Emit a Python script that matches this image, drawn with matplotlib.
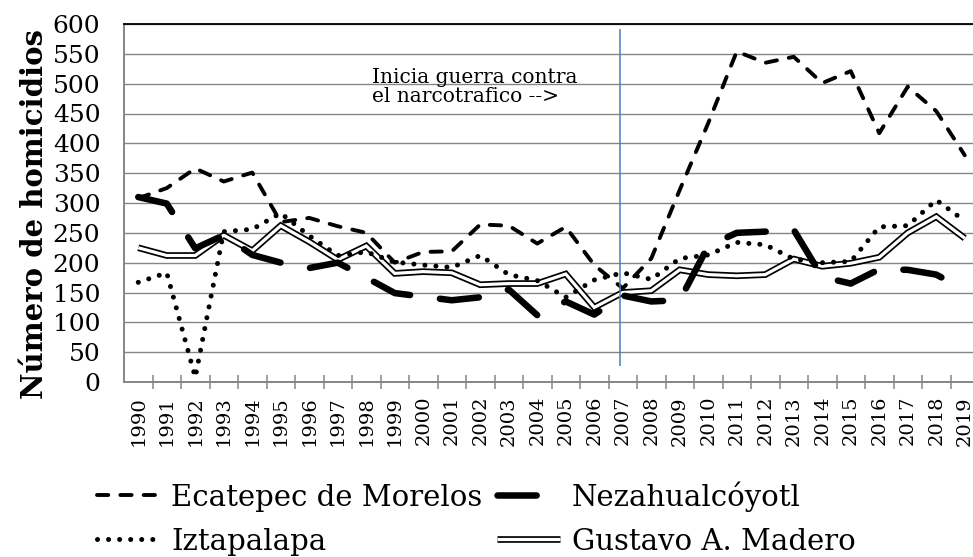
import matplotlib
matplotlib.use('Agg')
import matplotlib.pyplot as plt
import matplotlib.patheffects as pe
import numpy as np

# ---------------- data ----------------
years = [str(y) for y in range(1990, 2020)]
ecatepec = [308, 325, 358, 336, 351, 268, 275, 261, 250, 200, 218, 219, 264, 262, 232,
            260, 196, 157, 207, 322, 434, 554, 535, 545, 501, 521, 417, 495, 454, 380]
neza = [310, 299, 224, 246, 213, 200, 191, 200, 175, 149, 143, 137, 142, 155, 112,
        135, 113, 145, 135, 137, 228, 250, 252, 255, 176, 165, 189, 188, 180, 154]
iztapalapa = [167, 183, 8, 252, 256, 283, 245, 212, 218, 201, 196, 192, 212, 180, 170,
              142, 171, 183, 172, 207, 213, 234, 230, 206, 200, 202, 260, 262, 305, 270]
gam = [225, 212, 212, 246, 220, 262, 235, 205, 228, 182, 185, 183, 163, 165, 165,
       181, 125, 150, 153, 188, 180, 178, 180, 206, 194, 199, 209, 250, 277, 241]
series_names = ["Ecatepec de Morelos", "Nezahualcóyotl", "Iztapalapa", "Gustavo A. Madero"]
yticks = list(range(0, 601, 50))
event_pos = 16.9          # position of the vertical marker (around 2007)
event_span = (27, 592)
event_text = "Inicia guerra contra\nel narcotrafico -->"
ylabel = "Número de homicidios"

# ---------------- figure ----------------
SERIF = ['DejaVu Serif']
plt.rcParams['font.family'] = SERIF
W, H = 973, 557
fig = plt.figure(figsize=(W / 100, H / 100), dpi=100)
ax = fig.add_axes([124 / W, 175 / H, 855 / W, 358 / H])

x = np.arange(len(years))
grey = '#868686'

l_ec, = ax.plot(x, ecatepec, color='black', lw=2.8, dash_capstyle='round',
                linestyle=(0, (2.9, 3.1)), zorder=3, label=series_names[0])
l_ne, = ax.plot(x, neza, color='black', lw=4.7, dash_capstyle='round',
                linestyle=(0, (6.0, 4.6)), zorder=5, label=series_names[1])
l_iz, = ax.plot(x, iztapalapa, color='black', lw=3.6, dash_capstyle='round',
                linestyle=(0, (0.01, 2.2)), zorder=4, label=series_names[2])
l_gm, = ax.plot(x, gam, color='white', lw=2.3, zorder=2, label=series_names[3],
                solid_joinstyle='miter', solid_capstyle='butt',
                path_effects=[pe.Stroke(linewidth=4.8, foreground='black',
                                        capstyle='butt'), pe.Normal()])

ax.vlines(event_pos, event_span[0], event_span[1], color='#4A7EBB', lw=1.1, zorder=6)
ax.text(8.2, 527, event_text, fontsize=14.5, va='top', ha='left', family=SERIF,
        linespacing=1.0, zorder=7)

ax.set_xlim(-0.5, len(years) - 0.5)
ax.set_ylim(0, 600)
ax.set_yticks(yticks)
ax.set_yticklabels([str(v) for v in yticks], fontsize=18)
ax.set_xticks(x)
ax.set_xticklabels(years, rotation=90, fontsize=14)
ax.set_xticks(np.arange(0.5, len(years), 1.0), minor=True)
ax.tick_params(axis='y', length=0, pad=17)
ax.tick_params(axis='x', which='major', length=0, pad=10)
ax.tick_params(axis='x', which='minor', length=10, width=1.1, direction='inout',
               color=grey)

ax.yaxis.grid(True, color=grey, lw=1.0)
ax.set_axisbelow(True)
for s in ['left', 'bottom']:
    ax.spines[s].set_color(grey)
    ax.spines[s].set_linewidth(1.4)
ax.spines['top'].set_color('black')
ax.spines['top'].set_linewidth(1.3)
ax.spines['right'].set_visible(False)

ax.set_ylabel(ylabel, fontsize=21, fontweight='bold')
ax.yaxis.set_label_coords(-0.088, 0.468)

handles = [l_ec, l_iz, l_ne, l_gm]
fig.legend(handles, [h.get_label() for h in handles], ncol=2, loc='upper left',
           bbox_to_anchor=(97 / W, 1 - 481 / H), frameon=False, fontsize=21,
           handlelength=2.15, handletextpad=0.4, columnspacing=0.5,
           borderpad=0, borderaxespad=0, labelspacing=0.55)

fig.savefig('out.png', dpi=100)
